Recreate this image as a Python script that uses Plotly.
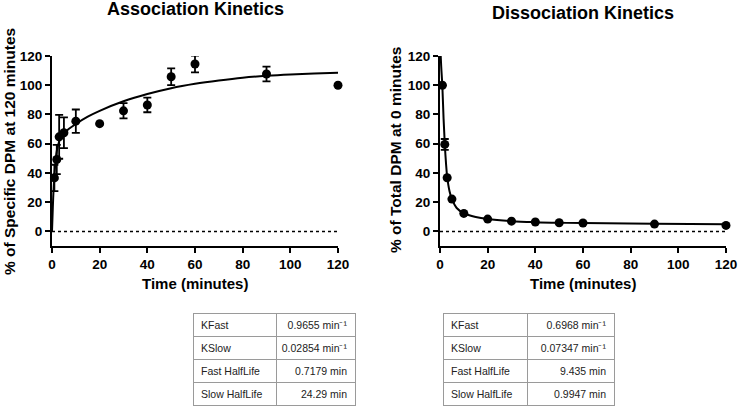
import plotly.graph_objects as go

W, H = 739, 416

# ---------------- data ----------------
assoc_t = [1, 2, 3, 5, 10, 20, 30, 40, 50, 60, 90, 120]
assoc_y = [36.6, 49.2, 64.7, 67.5, 75.4, 73.7, 82.5, 86.5, 105.8, 114.5, 107.7, 100.0]
assoc_err = [9.0, 10.0, 15.0, 10.5, 8.0, 0, 5.2, 5.0, 5.7, 5.7, 5.0, 0]

assoc_fit_t = [0, 0.25, 0.5, 1, 1.5, 2, 3, 4, 5, 7, 10, 15, 20, 30, 40, 50, 60, 70, 80, 90, 100, 110, 120]
assoc_fit_y = [0, 12, 23, 38, 48, 55, 61.5, 65, 67, 70, 73.5, 78.5, 82.5, 89, 94, 98, 101, 103.3, 105.2, 106.5, 107.4, 108, 108.5]

dissoc_t = [1, 2, 3, 5, 10, 20, 30, 40, 50, 60, 90, 120]
dissoc_y = [100.0, 59.5, 36.7, 22.1, 12.3, 8.4, 7.0, 6.4, 5.9, 5.7, 5.0, 4.1]
dissoc_err = [0, 3.7, 0, 0, 0, 0, 0, 0, 0, 0, 0, 0]

dissoc_fit_t = [0, 0.5, 1, 1.5, 2, 2.5, 3, 4, 5, 7, 10, 15, 20, 30, 40, 50, 60, 90, 120]
dissoc_fit_y = [130, 113, 99, 77, 60, 47, 37.5, 27.5, 22, 16, 12.4, 9.8, 8.4, 7.0, 6.3, 5.9, 5.7, 5.3, 4.9]

x_ticks = [0, 20, 40, 60, 80, 100, 120]
y_ticks = [0, 20, 40, 60, 80, 100, 120]

table_labels = ["KFast", "KSlow", "Fast HalfLife", "Slow HalfLife"]
assoc_values = ["0.9655 min\u207b\u00b9", "0.02854 min\u207b\u00b9", "0.7179 min", "24.29 min"]
dissoc_values = ["0.6968 min\u207b\u00b9", "0.07347 min\u207b\u00b9", "9.435 min", "0.9947 min"]

# ---------------- helpers ----------------
def px(x):
    return x / W

def py(y):
    return 1 - y / H

FONT = "Liberation Sans, Arial, sans-serif"

fig = go.Figure()

# association
fig.add_trace(go.Scatter(x=assoc_fit_t, y=assoc_fit_y, mode="lines", line=dict(color="black", width=2, shape="spline"),
                         xaxis="x", yaxis="y", showlegend=False, hoverinfo="skip"))
fig.add_trace(go.Scatter(x=[0, 120], y=[0, 0], mode="lines", line=dict(color="black", width=1.5, dash="dot"),
                         xaxis="x", yaxis="y", showlegend=False, hoverinfo="skip"))
fig.add_trace(go.Scatter(x=assoc_t, y=assoc_y, mode="markers", marker=dict(color="black", size=9),
                         error_y=dict(type="data", array=assoc_err, color="black", thickness=1.8, width=4),
                         cliponaxis=False, xaxis="x", yaxis="y", showlegend=False))

# dissociation
fig.add_trace(go.Scatter(x=dissoc_fit_t, y=dissoc_fit_y, mode="lines", line=dict(color="black", width=2, shape="spline"),
                         xaxis="x2", yaxis="y2", showlegend=False, hoverinfo="skip"))
fig.add_trace(go.Scatter(x=[0, 120], y=[0, 0], mode="lines", line=dict(color="black", width=1.5, dash="dot"),
                         xaxis="x2", yaxis="y2", showlegend=False, hoverinfo="skip"))
fig.add_trace(go.Scatter(x=dissoc_t, y=dissoc_y, mode="markers", marker=dict(color="black", size=9),
                         error_y=dict(type="data", array=dissoc_err, color="black", thickness=1.8, width=4),
                         cliponaxis=False, xaxis="x2", yaxis="y2", showlegend=False))

# tables (first row used as header so that no empty header row is drawn)
def nb(s):
    return s.replace(" ", "\u00a0")

def make_table(values, x0, x1, cw):
    labels = [nb(s) for s in table_labels]
    vals = [nb(s) for s in values]
    style = dict(align=["left", "right"], height=23,
                 line=dict(color="#9a9a9a", width=1), fill=dict(color="white"),
                 font=dict(family=FONT, size=10.5, color="#222"))
    return go.Table(
        domain=dict(x=[px(x0), px(x1)], y=[py(406), py(313)]),
        columnwidth=cw,
        header=dict(values=[labels[0], vals[0]], **style),
        cells=dict(values=[labels[1:], vals[1:]], **style),
    )

fig.add_trace(make_table(assoc_values, 193, 355, [83, 79]))
fig.add_trace(make_table(dissoc_values, 443, 615, [85, 87]))

axis_common = dict(showgrid=False, zeroline=False, showline=True, linecolor="black", linewidth=2,
                   ticks="outside", ticklen=5, tickwidth=2, tickcolor="black", automargin=False,
                   tickfont=dict(family=FONT, size=13.5, color="black", weight="bold"))

fig.update_layout(
    width=W, height=H, margin=dict(l=0, r=0, t=0, b=0, pad=0, autoexpand=False),
    paper_bgcolor="white", plot_bgcolor="white", showlegend=False,
    xaxis=dict(domain=[px(52), px(338)], range=[0, 120], tickvals=x_ticks, anchor="y", **axis_common),
    yaxis=dict(domain=[py(246), py(56)], range=[-10, 120], tickvals=y_ticks, anchor="x", **axis_common),
    xaxis2=dict(domain=[px(440), px(726)], range=[0, 120], tickvals=x_ticks, anchor="y2", **axis_common),
    yaxis2=dict(domain=[py(246), py(56)], range=[-10, 120], tickvals=y_ticks, anchor="x2", **axis_common),
)

def ann(text, x, y, size, angle=0):
    fig.add_annotation(text=text, x=px(x), y=py(y), xref="paper", yref="paper", showarrow=False,
                       textangle=angle, xanchor="center", yanchor="middle",
                       font=dict(family=FONT, size=size, color="black", weight="bold"))

ann("Association Kinetics", 195, 9, 18)
ann("Dissociation Kinetics", 583, 13, 18)
ann("Time (minutes)", 195, 283, 15)
ann("Time (minutes)", 583, 283, 15)
ann("% of Specific DPM at 120 minutes", 9, 152, 15.5, -90)
ann("% of Total DPM at 0 minutes", 395, 150, 15.5, -90)

post = ("document.body.style.margin='0';document.body.style.padding='0';"
        "document.body.style.overflow='hidden';"
        "var gd=document.getElementById('{plot_id}');Plotly.Plots.resize(gd);")

fig.write_html("out.html", config={"responsive": False, "displayModeBar": False}, post_script=post)
